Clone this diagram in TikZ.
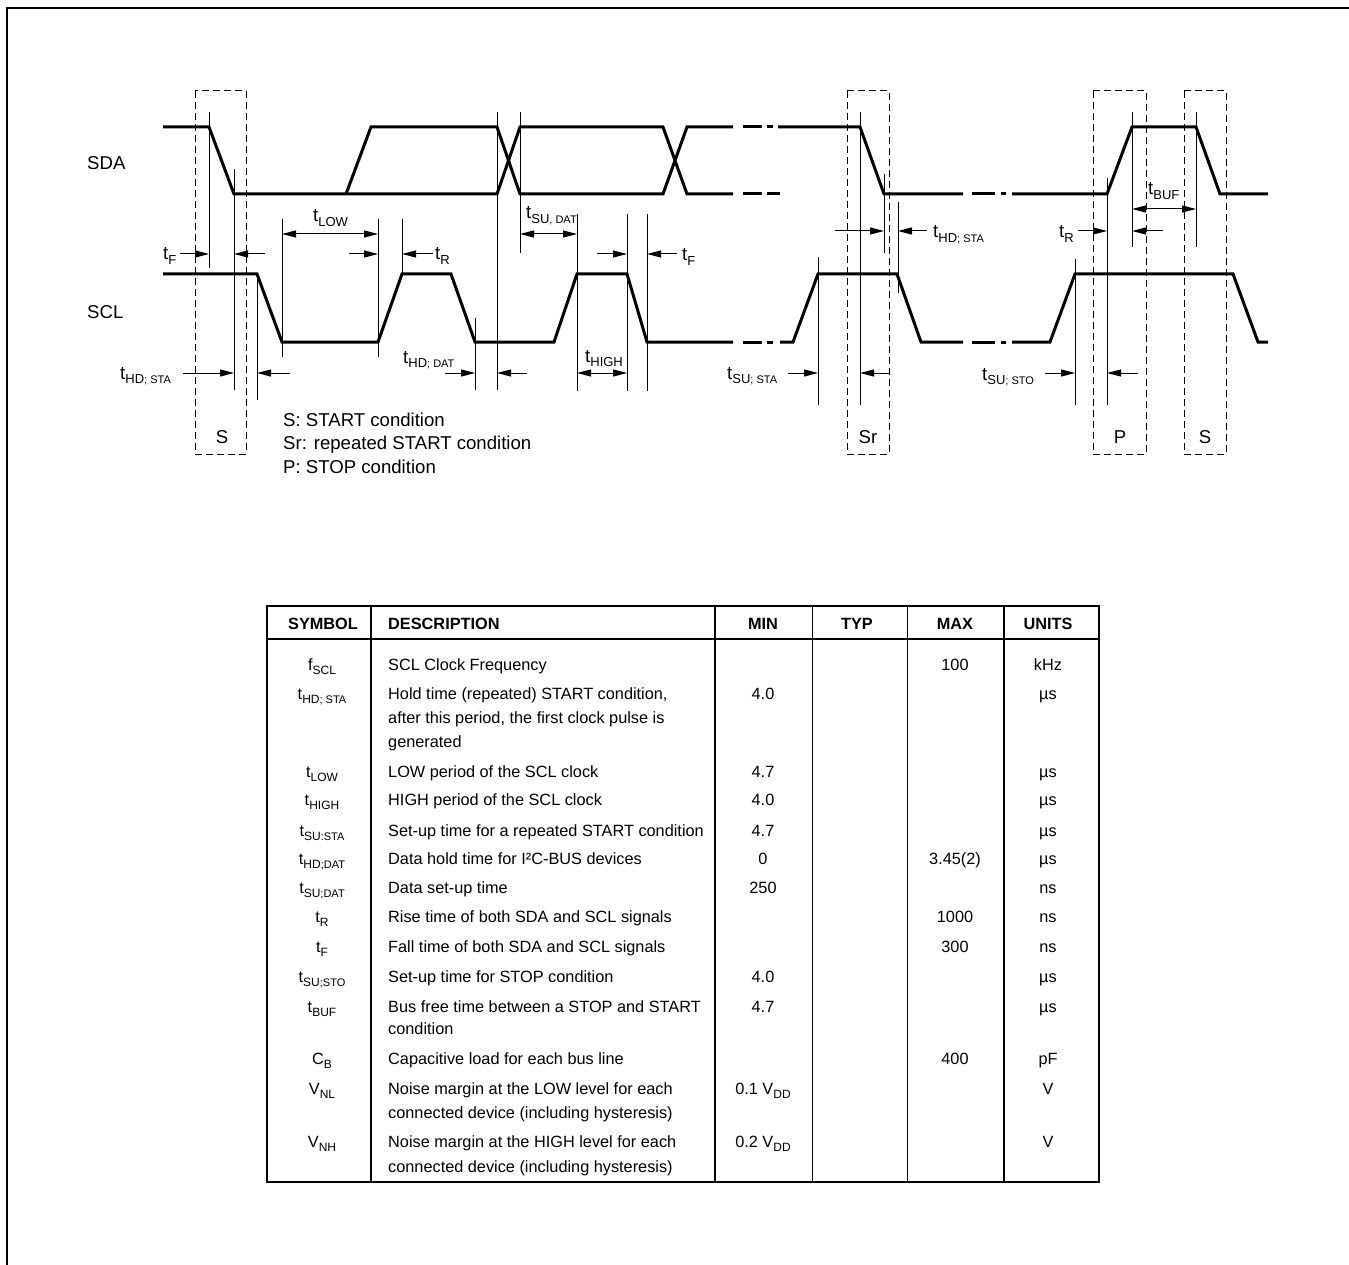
\documentclass[tikz,border=0pt]{standalone}
\usepackage{fontspec}
\setmainfont{Liberation Sans}
\usetikzlibrary{arrows.meta}
\newcommand\dfont{\fontsize{18.6}{22}\selectfont}
\newcommand\tfont{\fontsize{16.3}{20}\selectfont}
\newcommand\dT[3]{#1\raisebox{-4.5pt}{\fontsize{13}{13}\selectfont #2\fontsize{11}{11}\selectfont #3}}
\newcommand\tT[3]{#1\raisebox{-4pt}{\fontsize{12}{12}\selectfont #2\fontsize{11}{11}\selectfont #3}}
\tikzset{
  sig/.style={line width=3pt},
  vl/.style={line width=1pt},
  ar/.style={line width=1pt,-{Triangle[length=14pt,width=7pt]}},
  dar/.style={line width=1pt,{Triangle[length=14pt,width=7pt]}-{Triangle[length=14pt,width=7pt]}},
  cbox/.style={line width=1pt,dash pattern=on 7pt off 4pt},
  dl/.style={font=\dfont,inner sep=0pt,anchor=base west},
  dc/.style={font=\dfont,inner sep=0pt,anchor=base},
  tw/.style={font=\tfont,inner sep=0pt,anchor=base west},
  tc/.style={font=\tfont,inner sep=0pt,anchor=base},
  th/.style={font=\tfont\bfseries,inner sep=0pt,anchor=base},
  thick2/.style={line width=2pt},
  thin1/.style={line width=1pt}
}
\begin{document}
\begin{tikzpicture}[x=1pt,y=-1pt]
\useasboundingbox (0,0) rectangle (1349,1265);
% outer frame
\draw[line width=2.5pt] (7,1265) -- (7,8) -- (1349,8);

% ---------- signal traces ----------
% SDA
\draw[sig] (163,127) -- (209,127) -- (234,194) -- (497,194) -- (520,127) -- (663,127) -- (687,194) -- (733,194);
\draw[sig] (346,194) -- (371,127) -- (497,127) -- (520,194) -- (663,194) -- (687,127) -- (733,127);
\draw[sig] (743,127) -- (762,127) (767,127) -- (773,127);
\draw[sig] (743,194) -- (762,194) (767,194) -- (780,194);
\draw[sig] (778,127) -- (860,127) -- (884,194) -- (963,194);
\draw[sig] (972,194) -- (995,194) (1001,194) -- (1006,194);
\draw[sig] (1012,194) -- (1107,194) -- (1132,127) -- (1196,127) -- (1220,194) -- (1268,194);
% SCL
\draw[sig] (163,274) -- (257,274) -- (282,342) -- (378,342) -- (402,274) -- (451,274) -- (475,342) -- (554,342) -- (577,274) -- (627,274) -- (647,342) -- (733,342);
\draw[sig] (743,342) -- (762,342) (767,342) -- (773,342);
\draw[sig] (780,342) -- (793,342) -- (818,274) -- (897,274) -- (921,342) -- (963,342);
\draw[sig] (972,342) -- (995,342) (1001,342) -- (1006,342);
\draw[sig] (1012,342) -- (1050,342) -- (1075,274) -- (1233,274) -- (1258,342) -- (1268,342);

% ---------- reference lines ----------
\draw[vl] (209,112) -- (209,268);
\draw[vl] (234,169) -- (234,390);
\draw[vl] (257,275) -- (257,400);
\draw[vl] (282,219) -- (282,357);
\draw[vl] (378,219) -- (378,357);
\draw[vl] (402,219) -- (402,274);
\draw[vl] (475,318) -- (475,390);
\draw[vl] (497,112) -- (497,390);
\draw[vl] (520,112) -- (520,253);
\draw[vl] (577,214) -- (577,391);
\draw[vl] (627,214) -- (627,391);
\draw[vl] (647,214) -- (647,391);
\draw[vl] (818,257) -- (818,405);
\draw[vl] (860,112) -- (860,405);
\draw[vl] (884,174) -- (884,253);
\draw[vl] (898,202) -- (898,293);
\draw[vl] (1075,259) -- (1075,405);
\draw[vl] (1107,178) -- (1107,405);
\draw[vl] (1132,112) -- (1132,247);
\draw[vl] (1196,112) -- (1196,247);

% ---------- condition boxes ----------
\draw[cbox] (195,91) rectangle (246,454);
\draw[cbox] (847,91) rectangle (889,454);
\draw[cbox] (1093,91) rectangle (1146,454);
\draw[cbox] (1184,91) rectangle (1226,454);
\node[dc] (bS1) at (222,443.5) {S};
\node[dc] (bSr) at (868,443.5) {Sr};
\node[dc] (bP) at (1120,443.5) {P};
\node[dc] (bS2) at (1205,443.5) {S};

% ---------- signal names ----------
\node[dl] (sda) at (87,169.5) {SDA};
\node[dl] (scl) at (87,318.5) {SCL};

% ---------- timing arrows ----------
\draw[ar] (180,254) -- (209,254);
\draw[ar] (265,254) -- (234,254);
\draw[dar] (282,234) -- (378,234);
\draw[ar] (349,254) -- (378,254);
\draw[ar] (433,254) -- (402,254);
\draw[ar] (183,373) -- (234,373);
\draw[ar] (290,373) -- (257,373);
\draw[ar] (445,373) -- (475,373);
\draw[ar] (527,373) -- (497,373);
\draw[dar] (520,234) -- (577,234);
\draw[dar] (577,373) -- (627,373);
\draw[ar] (597,254) -- (627,254);
\draw[ar] (677,254) -- (647,254);
\draw[ar] (788,373) -- (818,373);
\draw[ar] (889,373) -- (860,373);
\draw[ar] (835,231) -- (884,231);
\draw[ar] (927,231) -- (898,231);
\draw[ar] (1078,231) -- (1107,231);
\draw[dar] (1132,209) -- (1196,209);
\draw[ar] (1163,231) -- (1132,231);
\draw[ar] (1045,373) -- (1075,373);
\draw[ar] (1138,373) -- (1107,373);

% ---------- timing labels ----------
\node[dl] (lF1) at (163,260) {\dT{t}{F}{}};
\node[dl] (lLOW) at (313,222) {\dT{t}{LOW}{}};
\node[dl] (lR1) at (435,260) {\dT{t}{R}{}};
\node[dl] (lHDSTA1) at (120,379) {\dT{t}{HD}{; STA}};
\node[dl] (lHDDAT) at (403,363) {\dT{t}{HD}{; DAT}};
\node[dl] (lSUDAT) at (526,219) {\dT{t}{SU}{, DAT}};
\node[dl] (lHIGH) at (585,362) {\dT{t}{HIGH}{}};
\node[dl] (lF2) at (682,261) {\dT{t}{F}{}};
\node[dl] (lSUSTA) at (727,379) {\dT{t}{SU}{; STA}};
\node[dl] (lHDSTA2) at (933,238) {\dT{t}{HD}{; STA}};
\node[dl] (lR2) at (1059,238) {\dT{t}{R}{}};
\node[dl] (lBUF) at (1148,195) {\dT{t}{BUF}{}};
\node[dl] (lSUSTO) at (982,380) {\dT{t}{SU}{; STO}};

% ---------- legend ----------
\node[dl] (lg1) at (283,426) {S: START condition};
\node[dl] (lg2) at (283,449.5) {Sr: repeated START condition};
\node[dl] (lg3) at (283,473) {P: STOP condition};

% ---------- table ----------
\draw[thick2] (267,606) rectangle (1099,1182);
\draw[thick2] (267,639) -- (1099,639);
\draw[thick2] (371,606) -- (371,1182);
\draw[thick2] (715,606) -- (715,1182);
\draw[thin1] (812,606) -- (812,1182);
\draw[thin1] (907,606) -- (907,1182);
\draw[thick2] (1004,606) -- (1004,1182);

\node[th] (hSym) at (323,629) {SYMBOL};
\node[th,anchor=base west] (hDesc) at (388,629) {DESCRIPTION};
\node[th] (hMin) at (763,629) {MIN};
\node[th] (hTyp) at (857,629) {TYP};
\node[th] (hMax) at (955,629) {MAX};
\node[th] (hUnit) at (1048,629) {UNITS};

% row 1
\node[tc] (s1) at (322,670) {\tT{f}{SCL}{}};
\node[tw] (d1) at (388,670) {SCL Clock Frequency};
\node[tc] (x1) at (955,670) {100};
\node[tc] (u1) at (1048,670) {kHz};
% row 2
\node[tc] (s2) at (322,699) {\tT{t}{HD}{; STA}};
\node[tw] (d2a) at (388,699) {Hold time (repeated) START condition,};
\node[tw] (d2b) at (388,723) {after this period, the first clock pulse is};
\node[tw] (d2c) at (388,747) {generated};
\node[tc] (m2) at (763,699) {4.0};
\node[tc] (u2) at (1048,699) {µs};
% row 3
\node[tc] (s3) at (322,777) {\tT{t}{LOW}{}};
\node[tw] (d3) at (388,777) {LOW period of the SCL clock};
\node[tc] (m3) at (763,777) {4.7};
\node[tc] (u3) at (1048,777) {µs};
% row 4
\node[tc] (s4) at (322,805.5) {\tT{t}{HIGH}{}};
\node[tw] (d4) at (388,805.5) {HIGH period of the SCL clock};
\node[tc] (m4) at (763,805.5) {4.0};
\node[tc] (u4) at (1048,805.5) {µs};
% row 5
\node[tc] (s5) at (322,836) {\tT{t}{SU}{:STA}};
\node[tw] (d5) at (388,836) {Set-up time for a repeated START condition};
\node[tc] (m5) at (763,836) {4.7};
\node[tc] (u5) at (1048,836) {µs};
% row 6
\node[tc] (s6) at (322,864) {\tT{t}{HD}{;DAT}};
\node[tw] (d6) at (388,864) {Data hold time for I²C-BUS devices};
\node[tc] (m6) at (763,864) {0};
\node[tc] (x6) at (955,864) {3.45(2)};
\node[tc] (u6) at (1048,864) {µs};
% row 7
\node[tc] (s7) at (322,893.5) {\tT{t}{SU}{;DAT}};
\node[tw] (d7) at (388,893.5) {Data set-up time};
\node[tc] (m7) at (763,893.5) {250};
\node[tc] (u7) at (1048,893.5) {ns};
% row 8
\node[tc] (s8) at (322,922.5) {\tT{t}{R}{}};
\node[tw] (d8) at (388,922.5) {Rise time of both SDA and SCL signals};
\node[tc] (x8) at (955,922.5) {1000};
\node[tc] (u8) at (1048,922.5) {ns};
% row 9
\node[tc] (s9) at (322,952.5) {\tT{t}{F}{}};
\node[tw] (d9) at (388,952.5) {Fall time of both SDA and SCL signals};
\node[tc] (x9) at (955,952.5) {300};
\node[tc] (u9) at (1048,952.5) {ns};
% row 10
\node[tc] (s10) at (322,982) {\tT{t}{SU}{;STO}};
\node[tw] (d10) at (388,982) {Set-up time for STOP condition};
\node[tc] (m10) at (763,982) {4.0};
\node[tc] (u10) at (1048,982) {µs};
% row 11
\node[tc] (s11) at (322,1012) {\tT{t}{BUF}{}};
\node[tw] (d11a) at (388,1012) {Bus free time between a STOP and START};
\node[tw] (d11b) at (388,1034) {condition};
\node[tc] (m11) at (763,1012) {4.7};
\node[tc] (u11) at (1048,1012) {µs};
% row 12
\node[tc] (s12) at (322,1064) {\tT{C}{B}{}};
\node[tw] (d12) at (388,1064) {Capacitive load for each bus line};
\node[tc] (x12) at (955,1064) {400};
\node[tc] (u12) at (1048,1064) {pF};
% row 13
\node[tc] (s13) at (322,1094) {\tT{V}{NL}{}};
\node[tw] (d13a) at (388,1094) {Noise margin at the LOW level for each};
\node[tw] (d13b) at (388,1118) {connected device (including hysteresis)};
\node[tc] (m13) at (763,1094) {\tT{0.1 V}{DD}{}};
\node[tc] (u13) at (1048,1094) {V};
% row 14
\node[tc] (s14) at (322,1147) {\tT{V}{NH}{}};
\node[tw] (d14a) at (388,1147) {Noise margin at the HIGH level for each};
\node[tw] (d14b) at (388,1172) {connected device (including hysteresis)};
\node[tc] (m14) at (763,1147) {\tT{0.2 V}{DD}{}};
\node[tc] (u14) at (1048,1147) {V};
\end{tikzpicture}
\end{document}
